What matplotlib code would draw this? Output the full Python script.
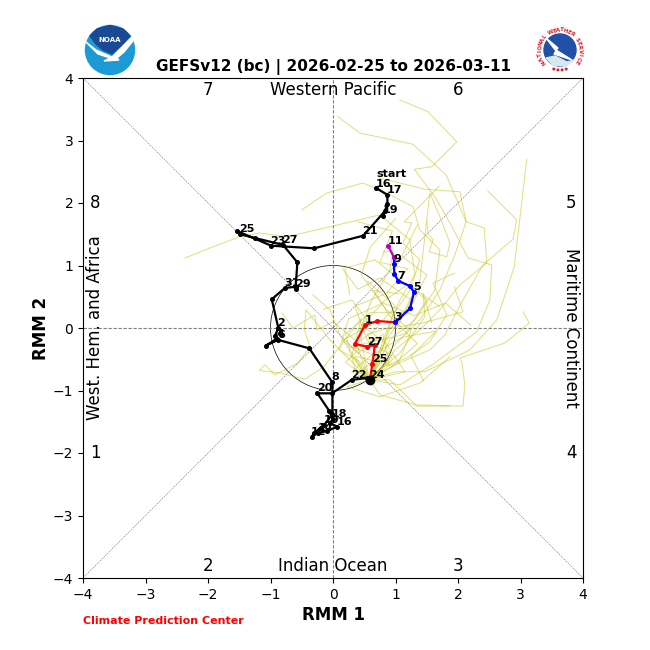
import numpy as np
import matplotlib
matplotlib.use('Agg')
import matplotlib.pyplot as plt
from matplotlib.patches import Circle, Polygon

# observed RMM1/RMM2 by day, 2026-01-16 onward
obs_days = [16, 17, 18, 19, 20, 21, 22, 23, 24, 25, 26, 27, 28, 29, 30, 31,
            1, 2, 3, 4, 5, 6, 7, 8, 9, 10, 11, 12, 13, 14, 15, 16, 17, 18, 19, 20, 21, 22, 23, 24]
obs_x = [0.69, 0.87, 0.87, 0.80, 0.83, 0.485, -0.30, -0.99, -1.53, -1.49, -1.25, -0.80, -0.57, -0.60, -0.60, -0.77,
         -0.98, -0.875, -0.93, -0.90, -1.07, -0.88, -0.38, -0.01, -0.01, -0.14, -0.30, -0.34, -0.20, -0.24, -0.10, 0.07, -0.05, -0.005, -0.064, -0.25, -0.016, 0.30, 0.55, 0.59]
obs_y = [2.24, 2.13, 1.98, 1.80, 1.87, 1.477, 1.275, 1.317, 1.55, 1.50, 1.44, 1.33, 1.05, 0.62, 0.66, 0.64,
         0.46, 0.0, -0.13, -0.17, -0.28, -0.19, -0.325, -0.87, -1.38, -1.55, -1.68, -1.74, -1.60, -1.68, -1.65, -1.58, -1.52, -1.46, -1.32, -1.045, -1.045, -0.83, -0.80, -0.83]

red_days = [24, 25, 26, 27, 28, 1, 2, 3]
red_x = [0.59, 0.63, 0.67, 0.55, 0.352, 0.512, 0.71, 0.997]
red_y = [-0.83, -0.576, -0.272, -0.30, -0.256, 0.048, 0.112, 0.09]

blue_days = [3, 4, 5, 6, 7, 8, 9, 10]
blue_x = [0.997, 1.232, 1.296, 1.232, 1.045, 0.98, 0.976, 0.976]
blue_y = [0.09, 0.315, 0.57, 0.672, 0.752, 0.864, 1.024, 1.13]

purple_days = [10, 11]
purple_x = [0.976, 0.885]
purple_y = [1.13, 1.31]

# ensemble members (all run back to the forecast start)
members = [
    [(0.08, 3.38), (0.43, 3.12), (1.28, 2.94), (1.81, 2.45), (2.13, 1.70), (1.95, 1.17), (1.71, 0.61), (1.39, 0.13), (0.99, -0.27), (0.67, -0.67), (0.59, -0.83)],
    [(1.07, 3.65), (1.52, 3.46), (1.98, 2.98), (1.58, 2.58), (1.30, 2.54), (1.63, 2.10), (1.90, 1.63), (2.16, 1.12), (2.54, 1.01), (2.51, 0.45), (2.30, -0.06), (1.60, -0.58), (1.07, -0.91), (0.59, -0.83)],
    [(3.10, 2.70), (2.90, 0.98), (2.62, 0.13), (2.19, -0.35), (1.47, -0.70), (0.99, -0.70), (0.59, -0.83)],
    [(2.48, 2.19), (2.94, 1.73), (2.88, 1.42), (2.40, 1.01), (2.08, 0.45), (1.79, -0.11), (1.55, -0.35), (0.99, -0.59), (0.59, -0.83)],
    [(3.04, 0.26), (3.14, 0.08), (2.75, -0.24), (2.03, -0.48), (2.06, -0.54), (2.11, -0.91), (2.08, -1.25), (1.33, -1.23), (0.75, -1.07), (0.59, -0.83)],
    [(1.87, -0.46), (1.39, -0.88), (0.75, -1.10), (0.22, -0.94), (0.59, -0.83)],
    [(1.87, -1.25), (1.34, -1.25), (0.91, -0.83), (0.59, -0.83)],
    [(1.70, 2.27), (1.14, 1.70), (1.26, 1.68), (1.12, 1.36), (1.39, 1.09), (1.23, 0.60), (0.95, 0.20), (0.80, -0.30), (0.59, -0.83)],
    [(0.75, 2.40), (1.47, 2.22), (2.03, 2.18), (2.13, 1.70), (2.42, 1.60), (2.46, 1.04), (2.03, 0.69), (1.71, 0.29), (1.39, -0.03), (0.99, -0.35), (0.72, -0.75), (0.59, -0.83)],
    [(-2.37, 1.12), (-1.92, 1.30), (-1.49, 1.46), (-1.17, 1.52), (-0.74, 1.46), (-0.05, 1.62), (0.75, 1.81), (1.23, 1.41), (1.31, 0.85), (1.07, 0.45), (0.83, -0.11), (0.67, -0.59), (0.59, -0.83)],
    [(-0.50, 1.89), (-0.10, 2.16), (0.48, 2.32), (0.86, 2.16), (1.28, 1.94), (1.39, 1.57), (1.71, 1.25), (1.63, 0.61), (1.31, 0.13), (0.91, -0.19), (0.62, -0.75), (0.59, -0.83)],
    [(-1.17, -0.67), (-1.09, -0.59), (-0.93, -0.75), (-0.56, -0.56), (-0.37, -0.30), (-0.46, -0.03), (-0.43, 0.29), (-0.05, -0.19), (0.27, -0.51), (0.59, -0.83)],
    [(-0.82, 0.24), (-0.64, 0.0), (-0.29, 0.21), (-0.26, -0.03), (0.0, 0.10), (0.35, -0.19), (0.59, -0.83)],
    [(-0.32, 0.53), (-0.05, 0.29), (0.11, -0.11), (0.51, -0.75), (0.59, -0.83)],
    [(1.94, 0.66), (2.08, 0.26), (1.44, 0.08), (0.91, 0.0), (0.62, -0.79), (0.59, -0.83)],
    [(1.95, 0.88), (1.60, 0.72), (1.82, 0.21), (1.55, -0.22), (1.18, -0.48), (0.75, -0.64), (0.59, -0.83)],
    [(1.58, 0.08), (1.44, 0.56), (1.47, 0.18), (1.07, -0.40), (0.67, -0.75), (0.59, -0.83)],
    [(0.80, 1.22), (0.96, 1.22), (0.91, 0.93), (0.62, 0.45), (0.43, -0.03), (0.51, -0.51), (0.59, -0.83)],
    [(1.50, 1.73), (1.52, 1.52), (1.60, 1.41), (1.54, 1.22), (1.82, 1.14), (1.87, 1.36), (1.71, 1.78), (1.55, 2.16), (1.39, 0.77), (1.07, 0.13), (0.75, -0.35), (0.59, -0.83)],
    [(0.27, 0.53), (0.19, 0.96), (0.67, 1.09), (1.10, 0.75), (1.50, 0.45), (1.15, -0.10), (0.50, -0.25), (0.20, -0.55), (0.59, -0.83)],
    [(1.05, 0.55), (0.65, 0.60), (0.90, 0.20), (1.35, -0.25), (0.95, -0.60), (0.35, -0.45), (0.59, -0.83)],
    # denser tangle around the unit circle
    [(-1.17, -0.68), (-0.85, -0.72), (-0.45, -0.82), (-0.15, -0.62), (0.15, -0.25), (0.45, 0.15), (0.30, -0.45), (0.59, -0.83)],
    [(0.15, 0.95), (0.40, 0.62), (0.75, 0.80), (1.25, 0.45), (1.05, 0.05), (0.55, -0.10), (0.75, -0.55), (0.59, -0.83)],
    [(1.70, 0.35), (1.20, 0.70), (0.70, 0.35), (0.25, 0.15), (0.10, -0.35), (0.45, -0.55), (0.59, -0.83)],
    [(0.40, 1.70), (0.95, 1.55), (0.75, 1.05), (1.20, 0.95), (0.85, 0.55), (0.35, 0.35), (0.55, -0.20), (0.95, -0.45), (0.59, -0.83)],
    [(1.35, 1.65), (1.10, 1.15), (1.50, 0.85), (1.20, 0.25), (0.60, 0.25), (0.20, -0.10), (0.35, -0.65), (0.59, -0.83)],
    [(2.20, 0.05), (1.80, 0.40), (1.30, 0.20), (0.80, 0.40), (0.45, 0.05), (0.85, -0.25), (1.15, -0.70), (0.59, -0.83)],
    [(-0.15, 0.30), (0.30, 0.45), (0.60, 0.05), (0.15, -0.20), (0.40, -0.40), (0.80, -0.10), (0.90, -0.60), (0.59, -0.83)],
    [(1.45, -0.85), (1.25, -0.45), (1.65, -0.05), (1.10, -0.15), (0.60, -0.45), (0.30, -0.70), (0.59, -0.83)],
    [(0.55, 0.75), (1.00, 0.35), (0.65, -0.05), (0.30, -0.30), (0.70, -0.45), (0.45, -0.70), (0.59, -0.83)],
    [(1.00, 1.75), (0.60, 1.30), (0.45, 0.85), (0.85, 0.30), (1.25, -0.05), (1.05, -0.55), (0.59, -0.83)],
]

quadrants = [('7', -2, 3.81), ('6', 2, 3.81), ('8', -3.8, 2), ('5', 3.81, 2),
             ('1', -3.8, -2), ('4', 3.81, -2), ('2', -2, -3.81), ('3', 2, -3.81)]

fig = plt.figure(figsize=(6.5, 6.5), dpi=100)
ax = fig.add_axes([83 / 650, 1 - 578 / 650, 500 / 650, 500 / 650])

ax.plot([-4, 4], [-4, 4], color='gray', lw=0.5, ls=(0, (2, 1.5)))
ax.plot([-4, 4], [4, -4], color='gray', lw=0.5, ls=(0, (2, 1.5)))
ax.axhline(0, color='gray', lw=0.8, ls=(0, (3, 1.5)))
ax.axvline(0, color='gray', lw=0.8, ls=(0, (3, 1.5)))
ax.add_patch(Circle((0, 0), 1, fill=False, color='black', lw=0.5))

for m in members:
    ax.plot([p[0] for p in m], [p[1] for p in m], color='#bfbf00', lw=0.7, alpha=0.5)


def draw_path(x, y, days, col, first_label):
    ax.plot(x, y, color=col, lw=1.6, marker='o', ms=2.6)
    for i in range(first_label, len(days), 2):
        ax.annotate(str(days[i]), (x[i], y[i]), xytext=(-0.5, 1.5), textcoords='offset points',
                    fontsize=8, fontweight='bold', color='black')


draw_path(obs_x, obs_y, obs_days, 'black', 1)
draw_path(red_x, red_y, red_days, 'red', 1)
draw_path(blue_x, blue_y, blue_days, 'blue', 2)
draw_path(purple_x, purple_y, purple_days, 'm', 1)
ax.annotate('16', (obs_x[0], obs_y[0]), xytext=(0, 1), textcoords='offset points', fontsize=8, fontweight='bold')
ax.annotate('start', (obs_x[0], obs_y[0]), xytext=(0, 8), textcoords='offset points', fontsize=8, fontweight='bold')
ax.plot(red_x[0], red_y[0], 'o', color='black', ms=6)

for q, qx, qy in quadrants:
    ax.text(qx, qy, q, fontsize=12, ha='center', va='center')
ax.text(0, 3.81, 'Western Pacific', fontsize=12, ha='center', va='center')
ax.text(0, -3.81, 'Indian Ocean', fontsize=12, ha='center', va='center')
ax.text(-3.81, 0, 'West. Hem. and Africa', fontsize=12, rotation=90, ha='center', va='center')
ax.text(3.81, 0, 'Maritime Continent', fontsize=12, rotation=-90, ha='center', va='center')

ax.set_xlim(-4, 4)
ax.set_ylim(-4, 4)
ax.set_xticks(range(-4, 5))
ax.set_yticks(range(-4, 5))
ax.tick_params(labelsize=10)
ax.set_xlabel('RMM 1', fontsize=12, fontweight='bold', labelpad=3)
ax.set_ylabel('RMM 2', fontsize=12, fontweight='bold', labelpad=2)
ax.set_title('GEFSv12 (bc) | 2026-02-25 to 2026-03-11', fontsize=11, fontweight='bold', pad=5)
fig.text(83 / 650, 1 - 621 / 650, 'Climate Prediction Center', color='red', fontsize=8, fontweight='bold', va='center')

# logos, in figure pixels
logo = fig.add_axes([0, 0, 1, 1], zorder=5)
logo.set_xlim(0, 650)
logo.set_ylim(650, 0)
logo.axis('off')
logo.add_patch(Circle((110, 50), 24.5, color='#1b9ad6'))
logo.add_patch(Polygon([(90, 36), (97, 29), (110, 25.5), (123, 29), (130, 36), (122, 45), (112, 54), (103, 50), (96, 44)], color='#1a4a94'))
logo.add_patch(Polygon([(86, 42), (96, 50), (112, 57), (122, 47), (132, 37), (133, 41), (124, 52), (117, 58), (119, 60), (104, 61), (110, 58), (98, 54)], color='white'))
logo.text(110, 39.5, 'NOAA', color='white', fontsize=5, fontweight='bold', ha='center', va='center')

logo.add_patch(Circle((560, 50), 23.5, color='white'))
logo.add_patch(Circle((560, 50), 16, color='#2050a8'))
logo.add_patch(Polygon([(546, 38), (558, 48), (556, 50), (572, 60), (554, 54), (556, 51)], color='white'))
logo.add_patch(Polygon([(546, 58), (555, 56), (567, 62), (574, 60), (566, 66), (553, 65)], color='#d8e8f0'))
ring = 'NATIONAL WEATHER SERVICE'
angles = np.linspace(215, -35, len(ring))
for ch, a in zip(ring, angles):
    logo.text(560 + 20 * np.cos(np.radians(a)), 50 - 20 * np.sin(np.radians(a)), ch, color='#d8202a',
              fontsize=4, fontweight='bold', rotation=a - 90, ha='center', va='center')
for a in [252, 264, 276, 288]:
    logo.add_patch(Circle((560 + 20 * np.cos(np.radians(a)), 50 - 20 * np.sin(np.radians(a))), 0.8, color='#d8202a'))

fig.savefig('out.png', dpi=100)
